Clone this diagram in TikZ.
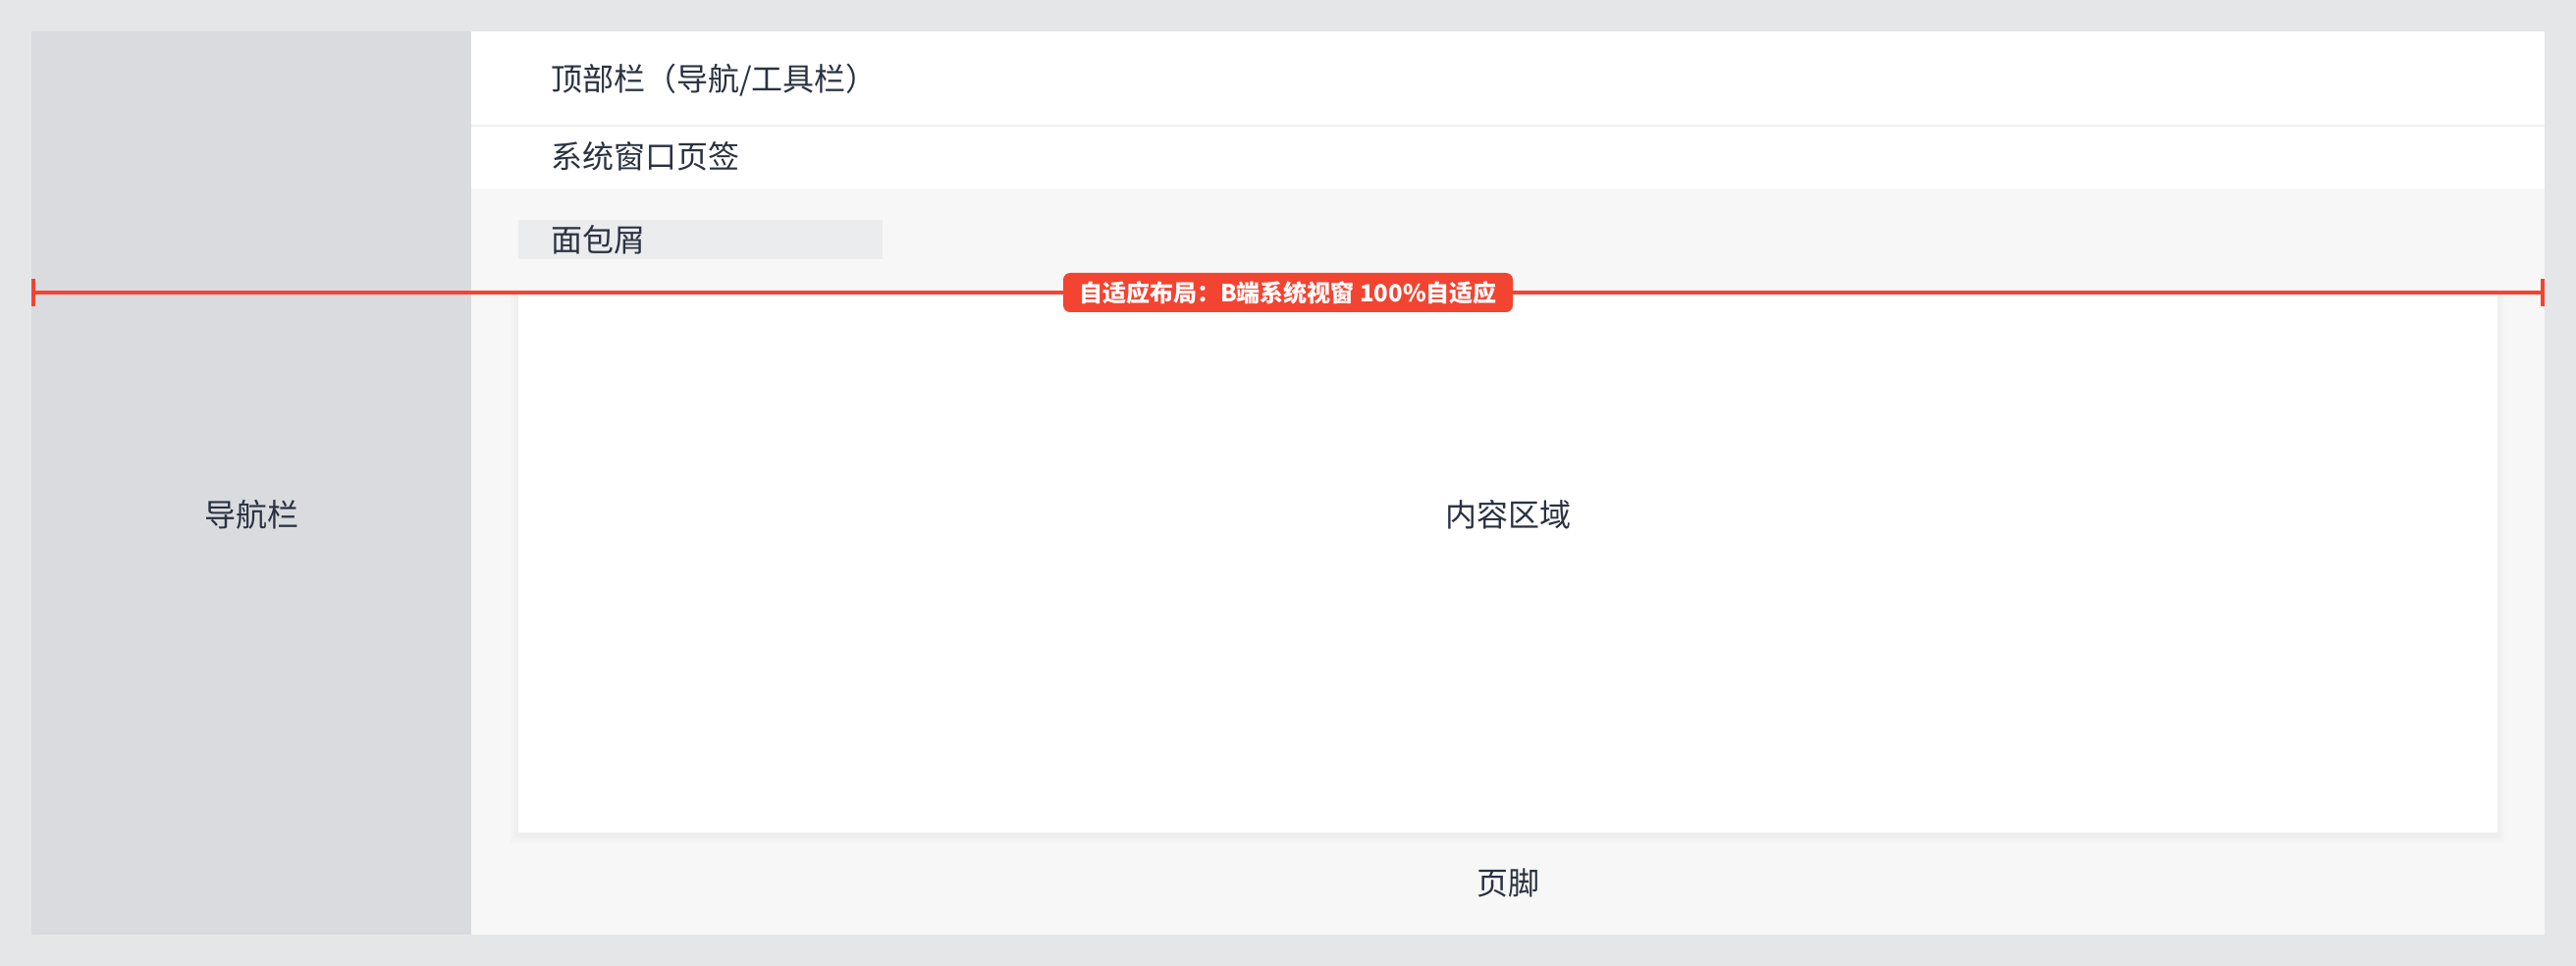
\documentclass[tikz,border=0pt]{standalone}
\usepackage{fontspec}
\newfontfamily\cjk{Noto Sans CJK SC}
\usetikzlibrary{arrows.meta}
\definecolor{outerbg}{HTML}{E5E6E8}
\definecolor{navbg}{HTML}{DADBDF}
\definecolor{mainbg}{HTML}{F7F7F7}
\definecolor{crumbbg}{HTML}{EBECEE}
\definecolor{divcol}{HTML}{EFF0F1}
\definecolor{txt}{HTML}{2A3241}
\definecolor{redc}{HTML}{F34432}
\tikzset{
  region/.style={anchor=north west, inner sep=0pt, outer sep=0pt, draw=none},
  lbl/.style={inner sep=0pt, text=txt, font=\cjk\fontsize{32}{38}\selectfont},
  redline/.style={draw=redc, line width=4pt, {Bar[width=28pt]}-{Bar[width=28pt]}},
  redtag/.style={fill=redc, rounded corners=7pt, inner sep=0pt, minimum width=458pt, minimum height=40pt, text=white, font=\cjk\bfseries\fontsize{24}{28}\selectfont}
}
\begin{document}
\begin{tikzpicture}[x=1pt,y=-1pt]
\useasboundingbox (0,0) rectangle (2624,984);
\node[region, fill=outerbg, minimum width=2624pt, minimum height=984pt] (bg) at (0,0) {};
\node[region, fill=navbg, minimum width=448pt, minimum height=920pt] (nav) at (32,32) {};
\node[region, fill=white, minimum width=2112pt, minimum height=95pt] (top) at (480,32) {};
\node[region, fill=white, minimum width=2112pt, minimum height=65pt] (tabs) at (480,127) {};
\draw[divcol, line width=2pt] ([yshift=-1pt]top.south west) -- ([yshift=-1pt]top.south east);
\node[region, fill=mainbg, minimum width=2112pt, minimum height=760pt] (main) at (480,192) {};
\node[region, fill=crumbbg, minimum width=371pt, minimum height=40pt] (crumb) at (528,224) {};
% card shadow
\foreach \d in {9,8,7,6,5,4,3,2,1}{
  \fill[black, opacity=0.0035] (528-\d, 300-\d+3) rectangle (2544+\d, 848+\d+3);
}
\node[region, fill=white, minimum width=2016pt, minimum height=548pt] (card) at (528,300) {};
% texts
\node[lbl, anchor=west] (toptxt) at (561,82) {顶部栏（导航/工具栏）};
\node[lbl, anchor=west] (tabtxt) at (561,159) {系统窗口页签};
\node[lbl, anchor=west] (crumbtxt) at (561,244) {面包屑};
\node[lbl] (navtxt) at (256,524) {导航栏};
\node[lbl] (cardtxt) at (1536,524) {内容区域};
\node[lbl] (foottxt) at (1536,899) {页脚};
% measure line
\coordinate (mL) at (32,298);
\coordinate (mR) at (2592,298);
\draw[redline] (mL) -- (mR);
\node[redtag] (tag) at (1312,298) {自适应布局：B端系统视窗 100\%自适应};
\end{tikzpicture}
\end{document}
